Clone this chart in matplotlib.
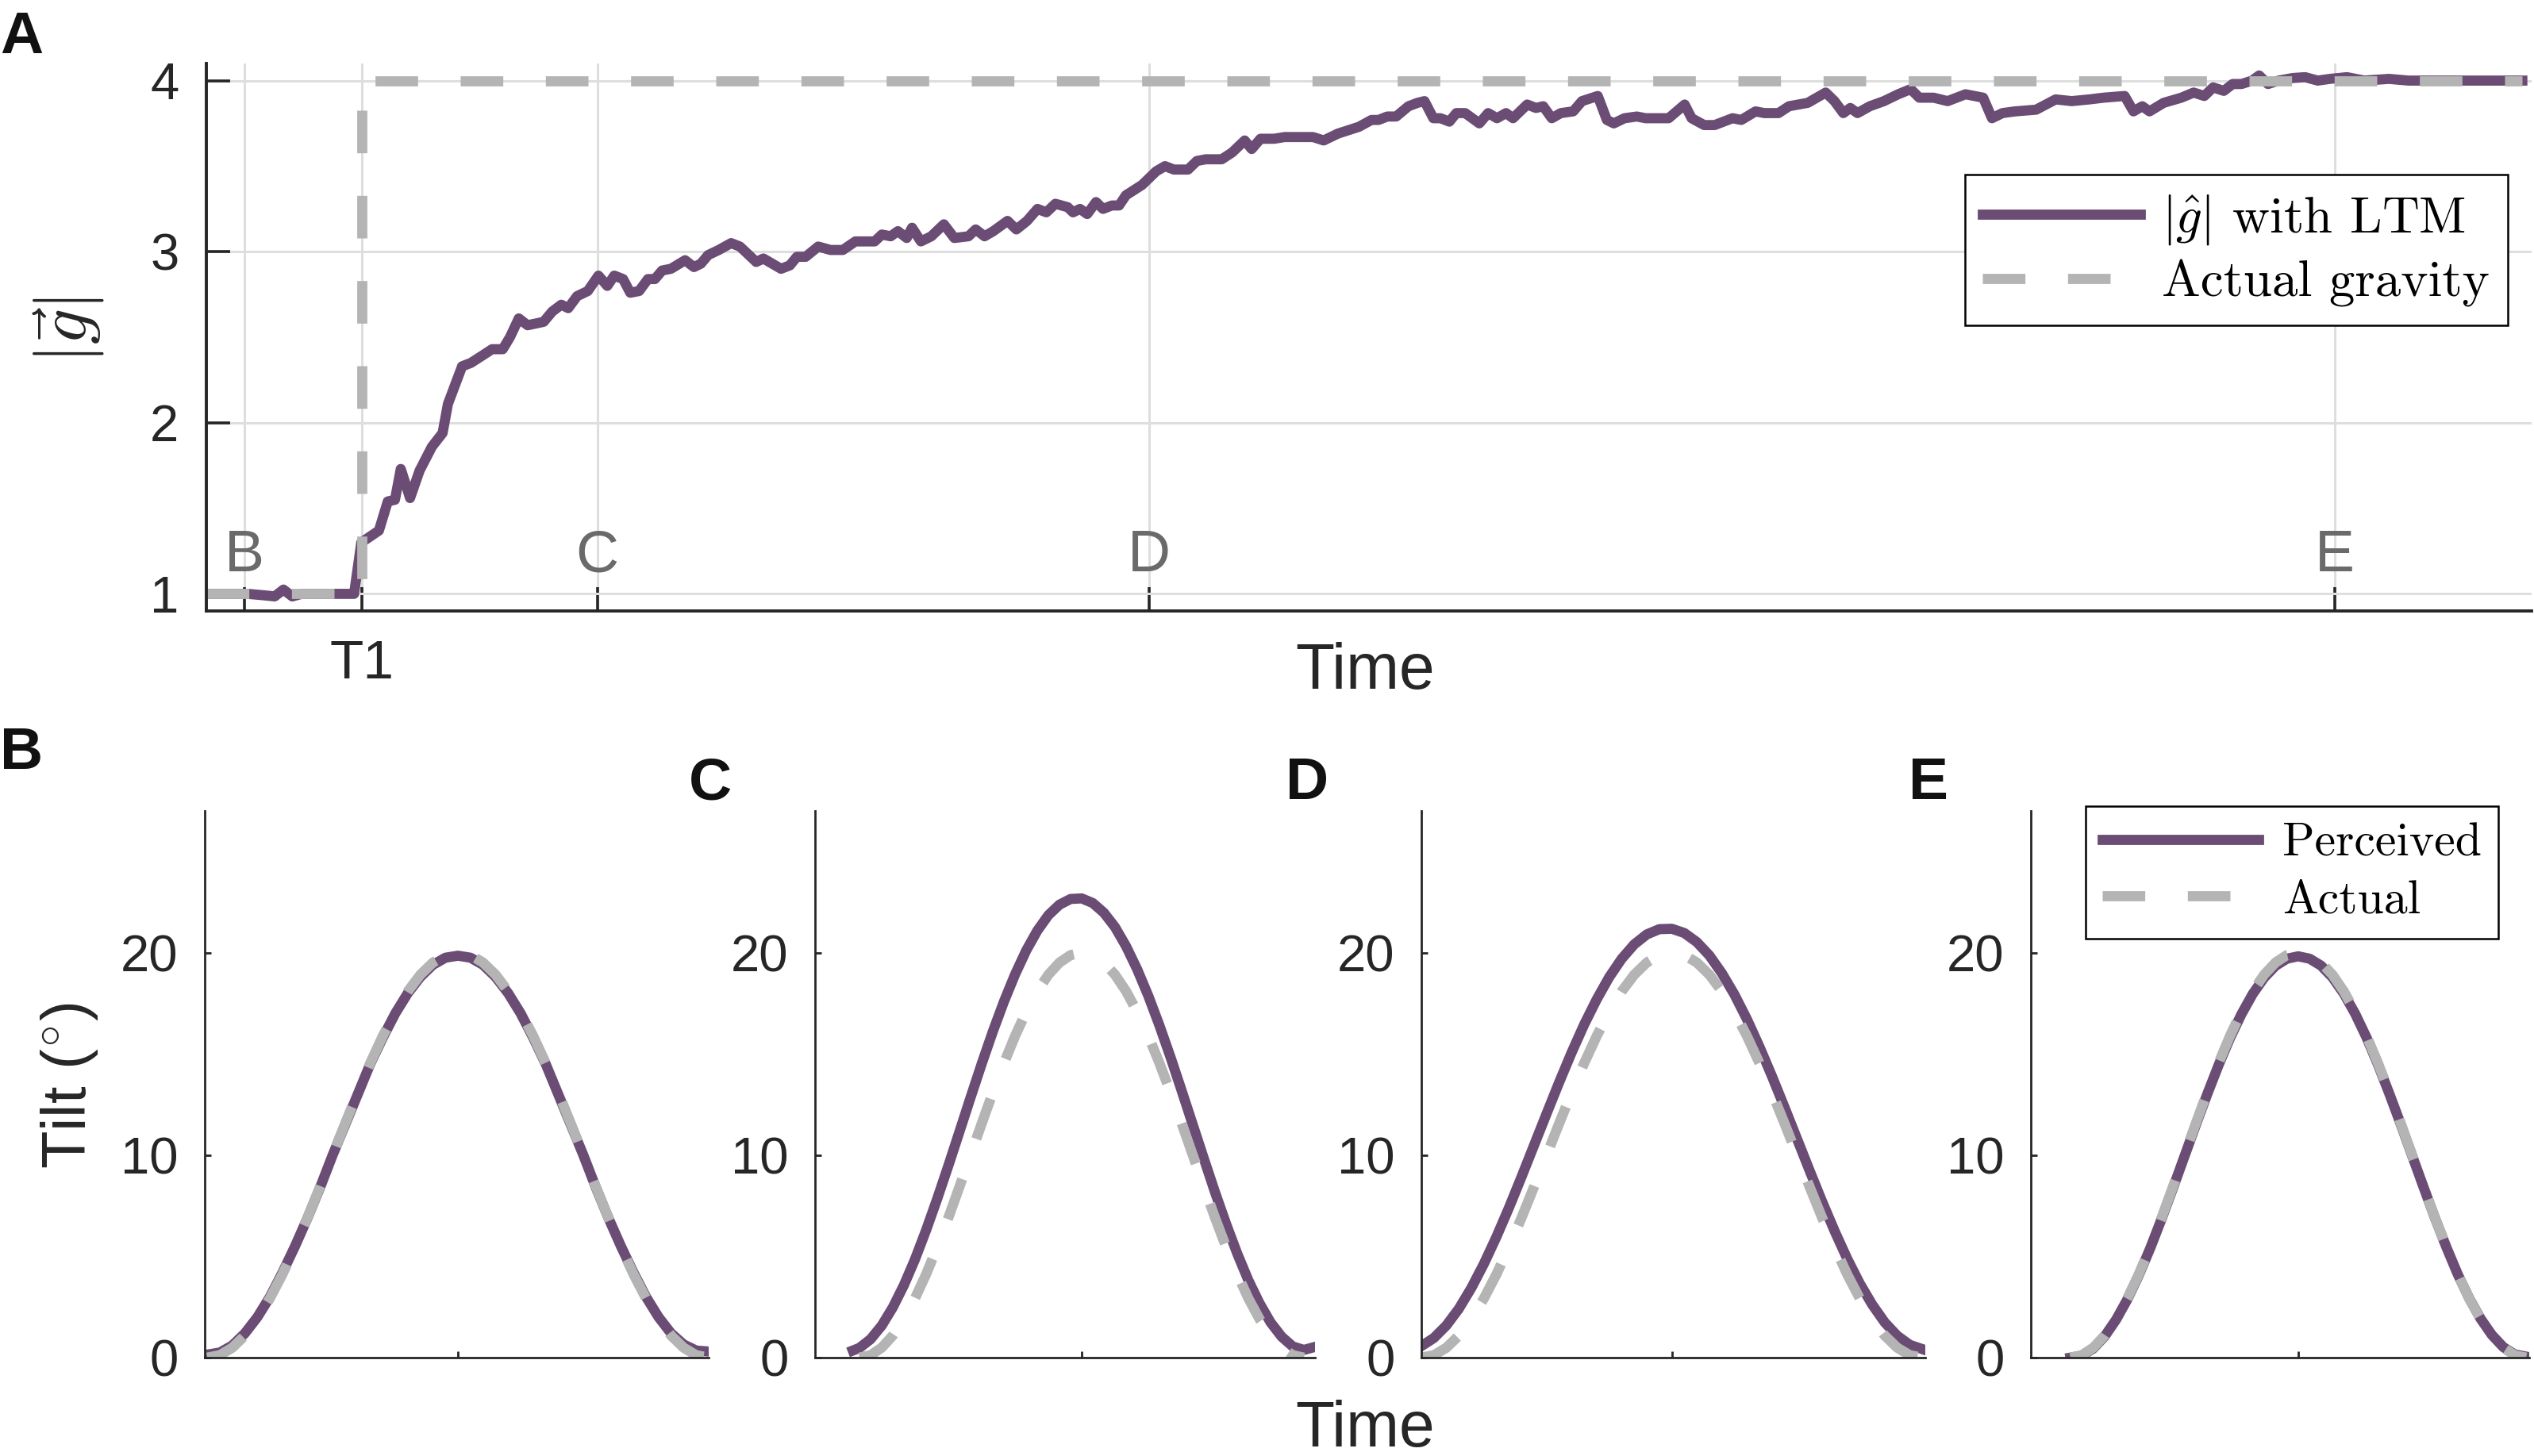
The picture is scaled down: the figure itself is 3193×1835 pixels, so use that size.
import matplotlib
matplotlib.use("Agg")
import matplotlib.pyplot as plt
from matplotlib.font_manager import FontProperties

plt.rcParams['font.family'] = ['Liberation Sans', 'DejaVu Sans']
plt.rcParams['mathtext.fontset'] = 'cm'

PURPLE = '#6B4C74'
GRAY = '#B4B4B4'
GRID = '#DEDEDE'
AXC = '#262626'

# ---- panel A: estimated gravity magnitude ----
t_est = [0, 1.79, 2.6, 2.94, 3.32, 3.70, 4.1, 5.45, 6.36, 6.67, 7.43, 7.81, 8.12, 8.37,
         8.77, 9.18, 9.71, 10.17, 10.40, 11.01, 11.39, 11.85, 12.30, 12.76, 13.07, 13.45,
         13.83, 14.52, 14.89, 15.28, 15.58, 15.96, 16.42, 16.88, 17.26, 17.56, 17.94, 18.25,
         18.63, 19.01, 19.31, 19.62, 20.00, 20.61, 20.99, 21.29, 21.60, 22.06, 22.59, 22.97,
         23.67, 23.98, 24.74, 25.12, 25.42, 25.80, 26.34, 26.87, 27.40, 27.94, 28.77, 29.08,
         29.46, 29.77, 30.15, 30.38, 30.76, 31.21, 31.75, 32.20, 32.81, 33.12, 33.50, 33.88,
         34.49, 34.87, 35.33, 35.78, 36.16, 36.55, 37.08, 37.31, 37.61, 37.92, 38.30, 38.60,
         38.98, 39.29, 39.59, 40.28, 40.89, 41.27, 41.65, 42.26, 42.64, 43.02, 43.71, 44.16,
         44.70, 45.00, 45.38, 45.97, 46.42, 47.64, 48.10, 48.71, 49.16, 49.62, 50.16, 50.46,
         50.84, 51.22, 51.75, 52.14, 52.44, 52.82, 53.13, 53.51, 53.81, 54.19, 54.80, 55.18,
         55.56, 55.95, 56.25, 56.86, 57.24, 57.55, 57.92, 58.31, 58.84, 59.22, 59.90, 60.29,
         60.59, 61.05, 61.58, 61.96, 62.95, 63.64, 63.94, 64.48, 64.93, 65.32, 65.70, 66.08,
         66.69, 67.07, 67.68, 68.13, 68.94, 69.71, 70.09, 70.47, 70.77, 71.08, 71.61, 72.22,
         72.83, 73.37, 73.74, 74.36, 74.96, 75.73, 76.49, 76.87, 77.32, 77.86, 78.77, 79.61,
         80.30, 81.06, 81.67, 82.58, 82.96, 83.34, 83.65, 84.26, 85.02, 85.55, 86.01, 86.39,
         86.85, 87.23, 87.61, 88.07, 88.37, 88.75, 89.21, 89.82, 90.35, 90.89, 91.42, 92.15,
         92.9, 93.96, 94.8, 95.56, 99.7]
g_est = [1.00, 1.00, 0.99, 0.985, 1.025, 0.985, 1.00, 1.00, 1.00, 1.30, 1.37, 1.54, 1.55, 1.73,
         1.56, 1.72, 1.86, 1.94, 2.11, 2.33, 2.35, 2.39, 2.43, 2.43, 2.50, 2.61,
         2.57, 2.59, 2.65, 2.69, 2.67, 2.74, 2.77, 2.86, 2.80, 2.86, 2.84, 2.76,
         2.77, 2.84, 2.84, 2.89, 2.90, 2.95, 2.91, 2.93, 2.98, 3.01, 3.05, 3.03,
         2.94, 2.96, 2.90, 2.92, 2.97, 2.97, 3.03, 3.01, 3.01, 3.06, 3.06, 3.10,
         3.09, 3.12, 3.08, 3.14, 3.06, 3.09, 3.16, 3.08, 3.09, 3.13, 3.09, 3.12,
         3.18, 3.13, 3.18, 3.25, 3.23, 3.28, 3.26, 3.23, 3.25, 3.22, 3.29, 3.25,
         3.27, 3.27, 3.33, 3.39, 3.47, 3.50, 3.48, 3.48, 3.53, 3.54, 3.54, 3.58,
         3.65, 3.60, 3.66, 3.66, 3.67, 3.67, 3.65, 3.69, 3.71, 3.73, 3.77, 3.77,
         3.79, 3.79, 3.85, 3.87, 3.88, 3.78, 3.78, 3.76, 3.81, 3.81, 3.75, 3.81,
         3.78, 3.81, 3.78, 3.86, 3.84, 3.85, 3.78, 3.81, 3.82, 3.88, 3.91, 3.77,
         3.75, 3.78, 3.79, 3.78, 3.78, 3.86, 3.78, 3.74, 3.74, 3.76, 3.78, 3.77,
         3.82, 3.81, 3.81, 3.85, 3.87, 3.93, 3.88, 3.81, 3.84, 3.81, 3.85, 3.88,
         3.92, 3.95, 3.90, 3.90, 3.88, 3.92, 3.90, 3.78, 3.81, 3.82, 3.83, 3.89,
         3.88, 3.89, 3.90, 3.91, 3.82, 3.85, 3.82, 3.87, 3.90, 3.93, 3.91, 3.96,
         3.94, 3.98, 3.98, 4.00, 4.03, 3.98, 4.00, 4.015, 4.02, 4.00, 4.01, 4.02,
         4.00, 4.01, 4.00, 4.00, 4.00]

t_grav = [0, 6.69, 6.69, 99.7]
g_grav = [1, 1, 4, 4]

mark_names = ['B', 'C', 'D', 'E']
mark_times = [1.64, 16.83, 40.58, 91.64]
t1_time = 6.69

# ---- panels B-E: tilt (deg) ----
t_act = [0, 0.025, 0.05, 0.075, 0.1, 0.125, 0.15, 0.175, 0.2, 0.225, 0.25, 0.275, 0.3, 0.325,
         0.35, 0.375, 0.4, 0.425, 0.45, 0.475, 0.5, 0.525, 0.55, 0.575, 0.6, 0.625, 0.65,
         0.675, 0.7, 0.725, 0.75, 0.775, 0.8, 0.825, 0.85, 0.875, 0.9, 0.925, 0.95, 0.975, 1.0]
tilt_act = [0, 0.12, 0.49, 1.09, 1.91, 2.93, 4.12, 5.46, 6.91, 8.44, 10.0, 11.56, 13.09, 14.54,
            15.88, 17.07, 18.09, 18.91, 19.51, 19.88, 20.0, 19.88, 19.51, 18.91, 18.09, 17.07,
            15.88, 14.54, 13.09, 11.56, 10.0, 8.44, 6.91, 5.46, 4.12, 2.93, 1.91, 1.09, 0.49,
            0.12, 0.0]

tilt_perc_B = [0.15, 0.25, 0.6, 1.2, 2.0, 3.0, 4.2, 5.5, 6.9, 8.4, 10.0, 11.5, 13.0, 14.5,
               15.8, 17.0, 18.0, 18.8, 19.4, 19.75, 19.85, 19.75, 19.4, 18.8, 18.0, 17.0,
               15.8, 14.5, 13.0, 11.5, 10.0, 8.4, 6.9, 5.5, 4.2, 3.0, 2.0, 1.2, 0.65, 0.35, 0.3]

t_perc_C = [-0.015] + t_act + [1.02]
tilt_perc_C = [0.35, 0.48, 0.91, 1.58, 2.48, 3.58, 4.86, 6.30, 7.85, 9.48, 11.16, 12.85, 14.51,
               16.10, 17.58, 18.92, 20.10, 21.08, 21.85, 22.37, 22.65, 22.68, 22.45, 21.97,
               21.26, 20.31, 19.17, 17.86, 16.40, 14.83, 13.18, 11.50, 9.82, 8.17, 6.60, 5.14,
               3.82, 2.69, 1.74, 1.03, 0.55, 0.38, 0.5]

tilt_perc_D = [0.57, 0.97, 1.59, 2.42, 3.45, 4.64, 5.97, 7.41, 8.93, 10.49, 12.05, 13.59, 15.07,
               16.45, 17.69, 18.79, 19.70, 20.41, 20.90, 21.16, 21.18, 20.97, 20.52, 19.86,
               18.98, 17.93, 16.71, 15.35, 13.89, 12.36, 10.80, 9.24, 7.71, 6.25, 4.89, 3.67,
               2.62, 1.74, 1.08, 0.63, 0.42]

tilt_perc_E = [0.0, 0.1, 0.45, 1.05, 1.87, 2.88, 4.07, 5.4, 6.85, 8.37, 9.93, 11.48, 13.0, 14.44,
               15.77, 16.95, 17.96, 18.76, 19.35, 19.7, 19.82, 19.7, 19.36, 18.78, 17.98, 16.98,
               15.8, 14.47, 13.03, 11.52, 9.97, 8.42, 6.9, 5.46, 4.12, 2.94, 1.93, 1.12, 0.52,
               0.16, 0.05]

W, H = 3193, 1835
fig = plt.figure(figsize=(W / 200, H / 200), dpi=200)


def px_axes(x0, x1, y0, y1):
    return fig.add_axes([x0 / W, 1 - y1 / H, (x1 - x0) / W, (y1 - y0) / H])


# ---------------- panel A ----------------
axA = px_axes(260, 3190, 80, 770)
axA.plot(t_est, g_est, color=PURPLE, lw=4.6, solid_joinstyle='round',
         label=r'$|\hat{g}|$ with LTM')
axA.plot(t_grav, g_grav, color=GRAY, lw=4.6, dashes=(4.2, 4.2),
         label='Actual gravity')
axA.set_xlim(0, 100.1)
axA.set_ylim(0.9, 4.1)
axA.set_yticks([1, 2, 3, 4])
xt = [mark_times[0], t1_time] + mark_times[1:]
axA.set_xticks(xt)
axA.set_xticklabels(['', 'T1', '', '', ''])
axA.grid(True, color=GRID, lw=1.1)
axA.set_axisbelow(True)
for s in ['top', 'right']:
    axA.spines[s].set_visible(False)
for s in ['left', 'bottom']:
    axA.spines[s].set_linewidth(1.4)
    axA.spines[s].set_color(AXC)
axA.tick_params(direction='in', length=10.8, width=1.3, pad=12.5, labelsize=23.5,
                colors=AXC)
axA.tick_params(axis='x', labelsize=25)
for name, x in zip(mark_names, mark_times):
    axA.text(x, 1.22, name, ha='center', va='center', color='#6A6A6A', fontsize=27)

legA = axA.legend(loc='upper right', bbox_to_anchor=(0.9898, 0.797), borderaxespad=0,
                  prop=FontProperties(family='cmr10', size=23.4), handlelength=3.06,
                  handletextpad=0.42, borderpad=0.35, labelspacing=0.25,
                  fancybox=False, edgecolor='black', framealpha=1)
legA.get_frame().set_linewidth(0.9)

fig.text(1720 / W, 1 - 847 / H, 'Time', ha='center', va='center', fontsize=29,
         color=AXC)
fig.text(87 / W, 1 - 416 / H, r'$|\vec{g}|$', ha='center', va='center', rotation=90,
         fontsize=32, color=AXC)

# ---------------- panels B-E ----------------
panels = [
    (258, 893, (-0.005, 1.0), t_act, tilt_perc_B),
    (1027, 1657, (-0.1, 1.025), t_perc_C, tilt_perc_C),
    (1791, 2426, (0.0, 1.006), t_act, tilt_perc_D),
    (2559, 3187, (-0.087, 1.007), t_act, tilt_perc_E),
]
bottom_axes = []
for x0, x1, xl, tp, yp in panels:
    ax = px_axes(x0, x1, 1022, 1711)
    ax.plot(tp, yp, color=PURPLE, lw=4.6, solid_joinstyle='round', label='Perceived')
    ax.plot(t_act, tilt_act, color=GRAY, lw=4.6, dashes=(4.2, 4.2), label='Actual')
    ax.set_xlim(*xl)
    ax.set_ylim(0, 27)
    ax.set_yticks([0, 10, 20])
    ax.set_xticks([0.5])
    ax.set_xticklabels([])
    for s in ['top', 'right']:
        ax.spines[s].set_visible(False)
    for s in ['left', 'bottom']:
        ax.spines[s].set_linewidth(1.0)
        ax.spines[s].set_color(AXC)
    ax.tick_params(direction='in', length=3, width=1.0, pad=12, labelsize=23.5,
                   colors=AXC)
    bottom_axes.append(ax)

axE = bottom_axes[-1]
legE = axE.legend(loc='upper right', bbox_to_anchor=(0.938, 1.009), borderaxespad=0,
                  prop=FontProperties(family='cmr10', size=21.5), handlelength=3.3,
                  handletextpad=0.5, borderpad=0.35, labelspacing=0.3,
                  fancybox=False, edgecolor='black', framealpha=1)
legE.get_frame().set_linewidth(0.9)

fig.text(1720 / W, 1 - 1802 / H, 'Time', ha='center', va='center', fontsize=29,
         color=AXC)
fig.text(88 / W, 1 - 1368 / H, r'Tilt ($^{\circ}$)', ha='center', va='center',
         rotation=90, fontsize=28, color=AXC)

# panel letters
for lab, x, yb in [('A', 0, 67), ('B', 0, 969), ('C', 868, 1007), ('D', 1620, 1007),
                   ('E', 2405, 1007)]:
    fig.text(x / W, 1 - yb / H, lab, ha='left', va='baseline', fontsize=27,
             fontweight='bold', color='#111111')

fig.savefig('out.png', dpi=200)
